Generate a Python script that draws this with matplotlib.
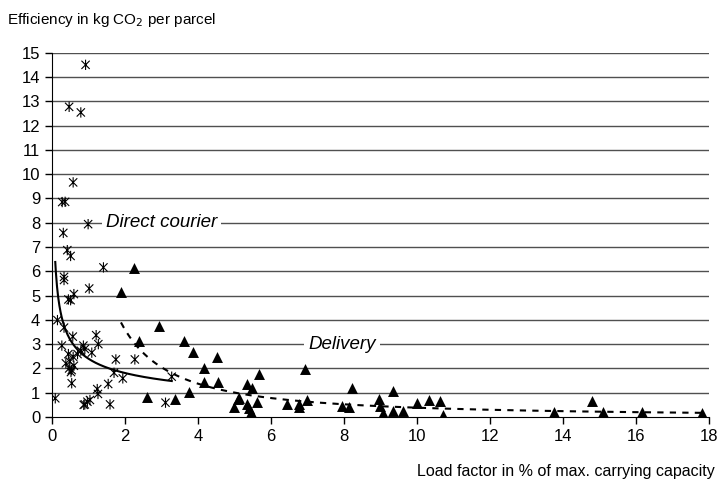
import numpy as np
import matplotlib
matplotlib.use("Agg")
import matplotlib.pyplot as plt
from matplotlib.path import Path

plt.rcParams['font.family'] = ['Liberation Sans', 'DejaVu Sans']

# Direct courier points (load factor %, kg CO2 per parcel)
courier_x = [0.92, 0.47, 0.79, 0.58, 0.28, 0.36, 0.99, 0.31, 0.42, 0.51,
             1.41, 0.33, 0.33, 1.02, 0.60, 0.45, 0.51, 0.15, 0.33, 0.57,
             1.21, 1.27, 0.27, 0.86, 0.90, 0.79, 1.09, 0.45, 0.58, 0.49,
             0.54, 0.60, 0.38, 0.70, 1.75, 2.27, 1.70, 1.94, 0.54, 1.54,
             1.24, 1.26, 0.09, 0.90, 0.97, 1.04, 0.87, 1.59, 3.11, 3.28,
             0.47, 0.52]
courier_y = [14.5, 12.77, 12.54, 9.66, 8.85, 8.86, 7.94, 7.58, 6.87, 6.63,
             6.16, 5.77, 5.64, 5.29, 5.06, 4.84, 4.81, 3.99, 3.68, 3.31,
             3.37, 3.00, 2.94, 2.94, 2.80, 2.73, 2.65, 2.59, 2.48, 2.28,
             1.93, 2.11, 2.21, 2.59, 2.37, 2.37, 1.82, 1.59, 1.39, 1.36,
             1.15, 0.95, 0.77, 0.52, 0.63, 0.70, 0.50, 0.52, 0.59, 1.66,
             2.00, 1.85]

# Delivery points
delivery_x = [2.25, 1.89, 2.93, 2.38, 3.62, 3.87, 4.51, 4.17, 4.17, 4.56,
              3.75, 2.61, 3.37, 4.99, 5.10, 5.67, 6.93, 5.35, 5.49, 5.13,
              5.33, 5.40, 5.44, 5.62, 6.43, 6.77, 6.77, 6.99, 8.23, 7.95,
              8.15, 9.35, 8.97, 8.99, 9.06, 9.33, 9.62, 10.0, 10.33, 10.62,
              10.72, 13.76, 14.79, 15.1, 16.16, 17.8]
delivery_y = [6.12, 5.13, 3.76, 3.14, 3.14, 2.69, 2.46, 2.00, 1.45, 1.45,
              1.02, 0.84, 0.73, 0.40, 0.73, 1.77, 1.98, 1.36, 1.18, 0.77,
              0.53, 0.36, 0.22, 0.63, 0.53, 0.42, 0.53, 0.70, 1.18, 0.47,
              0.42, 1.08, 0.73, 0.45, 0.15, 0.26, 0.26, 0.59, 0.70, 0.66,
              0.08, 0.19, 0.67, 0.19, 0.19, 0.15]

x_ticks = list(range(0, 19, 2))
y_ticks = list(range(0, 16))


def power_fit(x, y):
    # power trendline: linear regression in log-log space
    b, ln_a = np.polyfit(np.log(x), np.log(y), 1)
    xs = np.linspace(min(x), max(x), 200)
    return xs, np.exp(ln_a) * xs ** b


star = Path([(-1, -1), (1, 1), (-1, 1), (1, -1), (0, -1.25), (0, 1.25)],
            [Path.MOVETO, Path.LINETO, Path.MOVETO, Path.LINETO,
             Path.MOVETO, Path.LINETO])

fig = plt.figure(figsize=(7.2, 4.91), dpi=100)
ax = fig.add_axes([0.0722, 0.1507, 0.9125, 0.742])

for yv in y_ticks[1:]:
    ax.axhline(yv, color='#505050', lw=1.0, zorder=1)

ax.scatter(courier_x, courier_y, marker=star, s=55, facecolors='none',
           edgecolors='black', linewidths=0.8, zorder=3)
ax.scatter(delivery_x, delivery_y, marker='^', s=62, color='black',
           linewidths=0, zorder=3)

cx, cy = power_fit(courier_x, courier_y)
ax.plot(cx, cy, color='black', lw=1.5, zorder=4)
dx, dy = power_fit(delivery_x, delivery_y)
ax.plot(dx, dy, color='black', lw=1.5, ls=(0, (3, 3)), zorder=4)

ax.text(3.0, 8, 'Direct courier', style='italic', fontsize=13.5,
        ha='center', va='center', zorder=2,
        bbox=dict(facecolor='white', edgecolor='none', pad=3))
ax.text(7.95, 3, 'Delivery', style='italic', fontsize=13.5,
        ha='center', va='center', zorder=2,
        bbox=dict(facecolor='white', edgecolor='none', pad=3))

ax.set_xlim(0, 18)
ax.set_ylim(0, 15)
ax.set_xticks(x_ticks)
ax.set_yticks(y_ticks)
ax.tick_params(labelsize=12, length=5, width=1, color='black')
ax.spines['top'].set_visible(False)
ax.spines['right'].set_visible(False)

fig.text(0.01, 0.96, 'Efficiency in kg CO$_2$ per parcel', fontsize=11,
         ha='left', va='center')
fig.text(0.993, 0.04, 'Load factor in % of max. carrying capacity',
         fontsize=11.5, ha='right', va='center')

fig.savefig('out.png', dpi=100)
